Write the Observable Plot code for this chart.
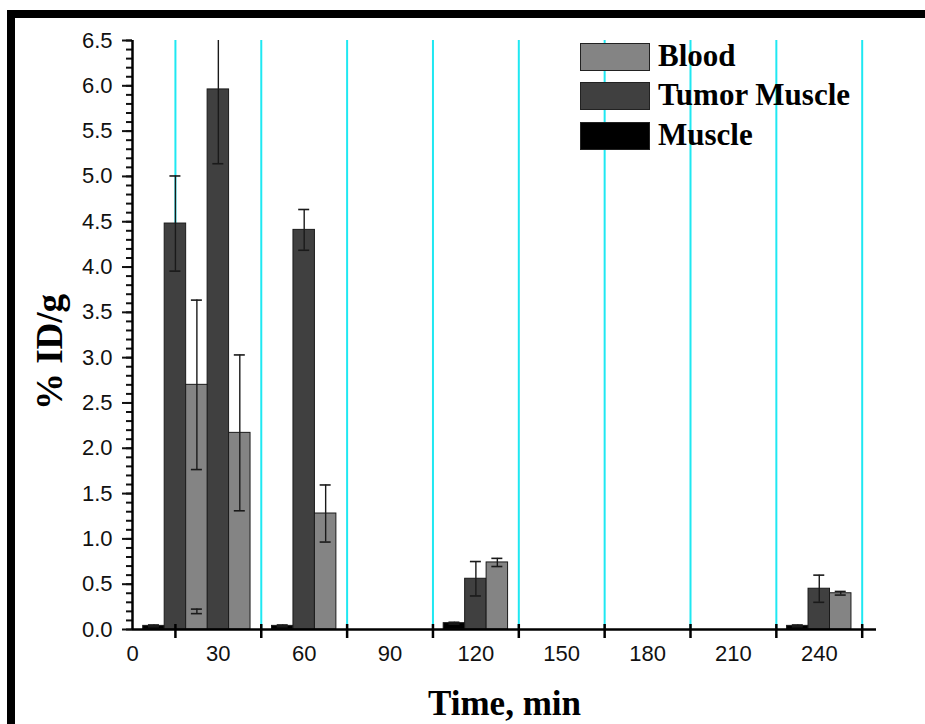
<!DOCTYPE html>
<html>
<head>
<meta charset="utf-8">
<script src="https://cdn.jsdelivr.net/npm/d3@7"></script>
<script src="https://cdn.jsdelivr.net/npm/@observablehq/plot@0.6"></script>
<style>
  html, body { margin: 0; padding: 0; background: #fff; }
  #wrap { position: relative; width: 925px; height: 724px; overflow: hidden; background: #fff; }
  #wrap svg { position: absolute; left: 0; top: 0; }
  .frameL { position: absolute; left: 7px; top: 10px; width: 8px; height: 714px; background: #000; }
  .frameT { position: absolute; left: 7px; top: 10px; width: 918px; height: 8px; background: #000; }
  .legend { position: absolute; left: 580px; top: 37px; font-family: "Liberation Serif", "Times New Roman", serif; font-weight: bold; font-size: 31px; color: #000; }
  .item { display: flex; align-items: center; height: 39.5px; }
  .item .sw { width: 70px; height: 28px; box-sizing: border-box; border: 1.5px solid #222; margin-right: 8px; }
  .item span { position: relative; top: -1px; }
</style>
</head>
<body>
<div id="wrap"></div>
<script>
// ---- data ----
const times = [15, 30, 60, 120, 240];
const muscle    = [0.04, 0.20, 0.04, 0.07, 0.04];
const muscleErr = [0.01, 0.025, 0.01, 0.01, 0.01];
const tumor     = [4.48, 5.96, 4.41, 0.56, 0.45];
const tumorErr  = [0.525, 0.82, 0.225, 0.19, 0.15];
const blood     = [2.70, 2.17, 1.28, 0.74, 0.40];
const bloodErr  = [0.935, 0.86, 0.315, 0.045, 0.02];

const seriesNames  = ["Muscle", "Tumor Muscle", "Blood"];
const seriesColors = ["#000000", "#404040", "#848484"];
const legendOrder  = ["Blood", "Tumor Muscle", "Muscle"];

const xTickLabels = [0, 30, 60, 90, 120, 150, 180, 210, 240];
const xTickMarks  = [15, 45, 75, 105, 135, 165, 195, 225, 255];
const yTickLabels = [0, 0.5, 1, 1.5, 2, 2.5, 3, 3.5, 4, 4.5, 5, 5.5, 6, 6.5];
const yMinorTicks = d3.range(0, 66).map(i => i / 10);

// ---- layout of groups ----
const barWidth = 7.5;                 // in minutes
const seriesOffset = [-7.5, 0, 7.5];  // muscle, tumor, blood
const seriesValues = [muscle, tumor, blood];
const seriesErrors = [muscleErr, tumorErr, bloodErr];

const rows = seriesNames.flatMap((name, si) =>
  times.map((t, i) => ({
    series: name,
    c: t + seriesOffset[si],
    v: seriesValues[si][i],
    e: seriesErrors[si][i]
  }))
);

const fontSans = "'Liberation Sans', Arial, sans-serif";
const fontSerif = "'Liberation Serif', 'Times New Roman', serif";

const chart = Plot.plot({
  width: 925,
  height: 724,
  marginLeft: 132,
  marginRight: 49,
  marginTop: 40,
  marginBottom: 95,
  style: { fontFamily: fontSans, fontSize: "22px", color: "#111", background: "transparent" },
  x: { domain: [0, 260] },
  y: { domain: [0, 6.5] },
  color: { domain: seriesNames, range: seriesColors },
  marks: [
    // cyan grid lines
    Plot.ruleX(xTickMarks, { y1: 0, y2: 6.5, stroke: "#1fe8f2", strokeWidth: 2 }),
    // bars
    Plot.rect(rows, {
      x1: d => d.c - barWidth / 2,
      x2: d => d.c + barWidth / 2,
      y1: 0,
      y2: "v",
      fill: "series",
      stroke: "#1a1a1a",
      strokeWidth: 1
    }),
    // error bars
    Plot.ruleX(rows, { x: "c", y1: d => d.v - d.e, y2: d => d.v + d.e, stroke: "#1a1a1a", strokeWidth: 1.4, clip: true }),
    Plot.ruleY(rows, { x1: "c", x2: "c", y: d => d.v + d.e, insetLeft: -5.5, insetRight: -5.5, stroke: "#1a1a1a", strokeWidth: 1.6, clip: true }),
    Plot.ruleY(rows, { x1: "c", x2: "c", y: d => d.v - d.e, insetLeft: -5.5, insetRight: -5.5, stroke: "#1a1a1a", strokeWidth: 1.6, clip: true }),
    // axes
    Plot.axisY(yMinorTicks, { tickSize: 6, tickFormat: () => "", strokeWidth: 2, label: null }),
    Plot.axisY(yTickLabels, { tickSize: 10, tickPadding: 10, tickFormat: d3.format(".1f"), strokeWidth: 2, label: null, fontSize: 22 }),
    Plot.axisX(xTickLabels, { tickSize: 0, tickPadding: 16, tickFormat: d => String(d), label: null, fontSize: 22 }),
    Plot.ruleX(xTickMarks, { y1: 0, y2: 0, insetTop: -5, insetBottom: -9, stroke: "#000", strokeWidth: 2.5 }),
    Plot.ruleX([0], { y1: 0, y2: 6.5, stroke: "#000", strokeWidth: 2.5 }),
    Plot.ruleY([0], { stroke: "#000", strokeWidth: 2.5 }),
    // axis titles
    Plot.text(["% ID/g"], {
      frameAnchor: "left", textAnchor: "middle", rotate: -90, dx: -82, dy: 17,
      fontFamily: fontSerif, fontWeight: "bold", fontSize: 37, fill: "#000"
    }),
    Plot.text(["Time, min"], {
      frameAnchor: "bottom", textAnchor: "middle", dy: 85,
      fontFamily: fontSerif, fontWeight: "bold", fontSize: 35, fill: "#000"
    })
  ]
});

const wrap = document.getElementById("wrap");
wrap.appendChild(chart);

// frame
const fl = document.createElement("div"); fl.className = "frameL"; wrap.appendChild(fl);
const ft = document.createElement("div"); ft.className = "frameT"; wrap.appendChild(ft);

// legend
const legend = document.createElement("div");
legend.className = "legend";
for (const name of legendOrder) {
  const item = document.createElement("div");
  item.className = "item";
  const sw = document.createElement("div");
  sw.className = "sw";
  sw.style.background = seriesColors[seriesNames.indexOf(name)];
  const lab = document.createElement("span");
  lab.textContent = name;
  item.appendChild(sw);
  item.appendChild(lab);
  legend.appendChild(item);
}
wrap.appendChild(legend);
</script>
</body>
</html>
